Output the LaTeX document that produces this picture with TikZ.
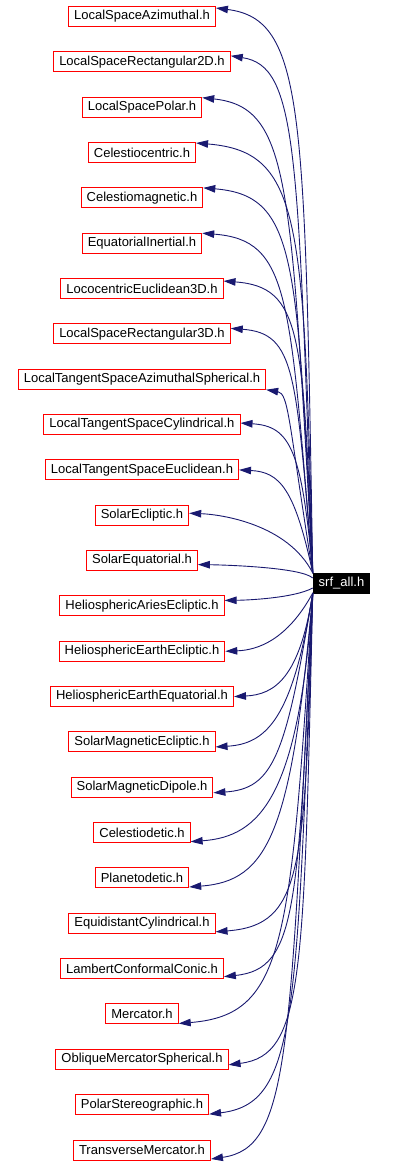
\documentclass[tikz,border=0pt]{standalone}
\usepackage{fontspec}
\setmainfont{Liberation Sans}
\usetikzlibrary{arrows.meta, calc}
\definecolor{cedge}{HTML}{191970}
\definecolor{cred}{HTML}{FF0000}

\begin{document}
\begin{tikzpicture}[x=1pt, y=1pt,
  hdr/.style={draw=cred, fill=white, line width=1pt, font=\fontsize{13}{15}\selectfont,
    inner xsep=5.5pt, inner ysep=0pt, minimum height=20pt},
  topfile/.style={hdr, draw=black, fill=black, text=white},
  edge/.style={cedge, line width=0.9pt, -{Triangle[length=12pt, width=7.5pt]}}]
  \useasboundingbox (0,0) rectangle (401,-1167);

  % the included headers, one per row
  \foreach \name [count=\i from 0] in {LocalSpaceAzimuthal, LocalSpaceRectangular2D,
      LocalSpacePolar, Celestiocentric, Celestiomagnetic, EquatorialInertial,
      LococentricEuclidean3D, LocalSpaceRectangular3D, LocalTangentSpaceAzimuthalSpherical,
      LocalTangentSpaceCylindrical, LocalTangentSpaceEuclidean, SolarEcliptic,
      SolarEquatorial, HeliosphericAriesEcliptic, HeliosphericEarthEcliptic,
      HeliosphericEarthEquatorial, SolarMagneticEcliptic, SolarMagneticDipole,
      Celestiodetic, Planetodetic, EquidistantCylindrical, LambertConformalConic,
      Mercator, ObliqueMercatorSpherical, PolarStereographic, TransverseMercator}{
    \node[hdr] (n\i) at (142, -16.5-45.34*\i) {\name.h};
  }

  % the including file
  \node[topfile] (srf) at (341.5, -583) {srf\_all.h};

  % include edges: target, tip shift on target, start shift on srf
  \foreach \i/\dy/\sy in {0/8.5/10, 1/6/10, 2/9.5/10, 3/9.5/10, 4/10/10, 5/10/10,
      6/7.5/10, 7/5.5/10, 8/-10.5/10, 9/1.5/10, 10/0/10, 11/2/10, 12/-4/5,
      13/5.5/-5, 14/0/-10, 15/0/-10, 16/-5/-10, 17/-5.5/-10, 18/-9/-10,
      19/-9/-10, 20/-8.5/-10, 21/-8/-10, 22/-9.5/-10, 23/-5.5/-10,
      24/-9.5/-10, 25/-9/-10}{
    \draw[edge] let \p1=([yshift=\sy pt]srf.west), \p2=([yshift=\dy pt]n\i.east),
        \n1={\x1-8-mod(7*\i,20)} in
      (\p1) .. controls (\n1, {\y2+0.18*(\y1-\y2)})
      and ({min(\n1, \x2+20+0.2*abs(\y2-\y1))}, {\y2+0.02*(\y1-\y2)})
      .. (\p2);
  }
\end{tikzpicture}
\end{document}
